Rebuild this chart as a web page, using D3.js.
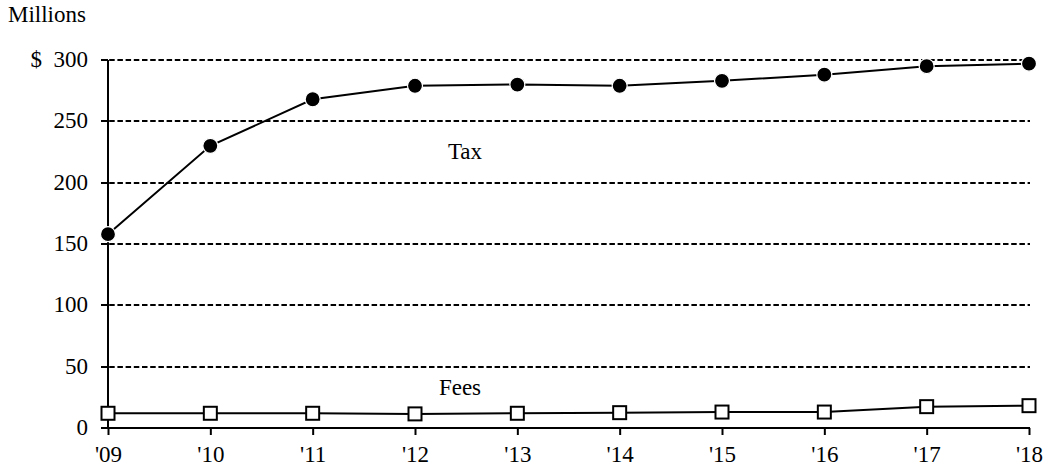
<!DOCTYPE html>
<html><head><meta charset="utf-8">
<script src="https://cdn.jsdelivr.net/npm/d3@7"></script>
<style>
html,body{margin:0;padding:0;background:#fff;}
text{font-family:"Liberation Serif","Times New Roman",serif;fill:#000;}
</style></head>
<body>
<svg id="chart" width="1050" height="469"></svg>
<script>
const years = ["'09","'10","'11","'12","'13","'14","'15","'16","'17","'18"];
const taxValues = [158, 230, 268, 279, 280, 279, 283, 288, 295, 297];
const feeValues = [12, 12, 12, 11.5, 12, 12.5, 13, 13, 17.4, 18.2];
const yTicks = [0, 50, 100, 150, 200, 250, 300];
const yTickLabels = ["0", "50", "100", "150", "200", "250", "$  300"];

(function () {
const FS = "23px";
const svg = d3.select("#chart");
const pl = 108, pr = 1029, pt = 60, pb = 428;
const x = d3.scalePoint().domain(years).range([pl, pr]);
const y = d3.scaleLinear().domain([0, 300]).range([pb, pt]);

// gridlines
svg.append("g").selectAll("line").data(yTicks.filter(d => d > 0)).join("line")
  .attr("x1", pl - 7).attr("x2", pr + 1)
  .attr("y1", d => Math.round(y(d))).attr("y2", d => Math.round(y(d)))
  .attr("stroke", "#000").attr("stroke-width", 2).attr("stroke-dasharray", "5.5,2.7");

// y axis
const yAxis = svg.append("g").attr("transform", `translate(${pl},0)`)
  .call(d3.axisLeft(y).tickValues(yTicks).tickSize(7).tickFormat((d,i) => yTickLabels[i]));
yAxis.select(".domain").attr("d", `M0,${pb}V${pt}`).attr("stroke-width", 2);
yAxis.selectAll(".tick").attr("transform", d => `translate(0,${Math.round(y(d))})`);
yAxis.selectAll(".tick line").attr("stroke-width", 2);
yAxis.selectAll(".tick text").attr("x", -20).attr("dy", "0.32em")
  .style("font-size", FS).style("font-family", "Liberation Serif, serif").attr("fill", "#000")
  .style("white-space", "pre");

// x axis
const xAxis = svg.append("g").attr("transform", `translate(0,${pb})`)
  .call(d3.axisBottom(x).tickSize(7));
xAxis.select(".domain").attr("d", `M${pl-7},0H${pr+1}`).attr("stroke-width", 2);
xAxis.selectAll(".tick line").attr("stroke-width", 2);
xAxis.selectAll(".tick text").attr("y", 34).attr("dy", 0)
  .style("font-size", FS).style("font-family", "Liberation Serif, serif").attr("fill", "#000");

svg.append("text").attr("x", 8).attr("y", 22).style("font-size", FS).text("Millions");

// lines
const line = vals => d3.line().x((d, i) => x(years[i])).y(d => y(d))(vals);
svg.append("path").attr("d", line(taxValues)).attr("fill", "none").attr("stroke", "#000").attr("stroke-width", 2);
svg.append("path").attr("d", line(feeValues)).attr("fill", "none").attr("stroke", "#000").attr("stroke-width", 2);

svg.append("g").selectAll("circle").data(taxValues).join("circle")
  .attr("cx", (d, i) => x(years[i])).attr("cy", d => y(d)).attr("r", 7.5)
  .attr("fill", "#000").attr("stroke", "#fff").attr("stroke-width", 1.2);

svg.append("g").selectAll("rect").data(feeValues).join("rect")
  .attr("x", (d, i) => x(years[i]) - 6.5).attr("y", d => y(d) - 6.5)
  .attr("width", 13).attr("height", 13)
  .attr("fill", "#fff").attr("stroke", "#000").attr("stroke-width", 2);

svg.append("text").attr("x", 465).attr("y", 159).attr("text-anchor", "middle").style("font-size", FS).text("Tax");
svg.append("text").attr("x", 460).attr("y", 395).attr("text-anchor", "middle").style("font-size", FS).text("Fees");
})();
</script>
</body></html>
